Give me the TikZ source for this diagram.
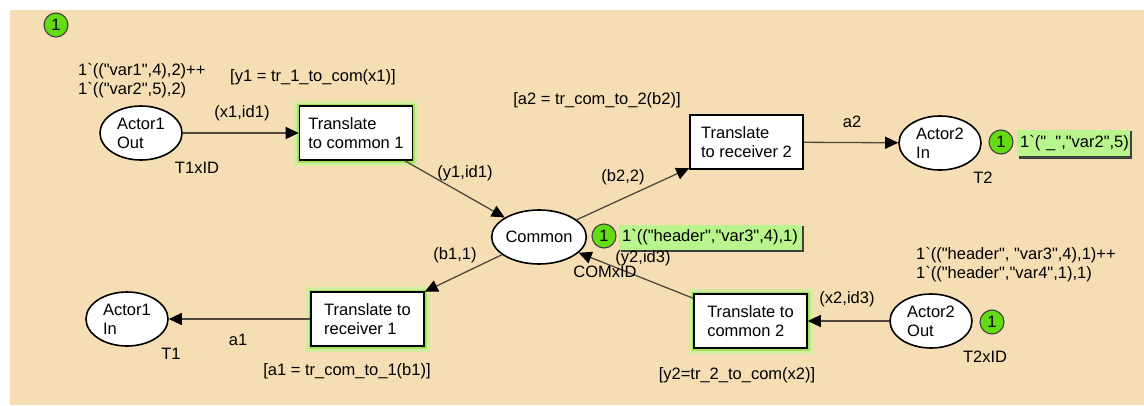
\documentclass[tikz,border=0pt]{standalone}
\usepackage{fontspec}
\setmainfont{Liberation Sans}[Ligatures=TeXOff]
\usetikzlibrary{shapes.geometric,arrows.meta}
\definecolor{bg}{RGB}{245,222,179}
\definecolor{tokgreen}{RGB}{100,220,20}
\definecolor{lblgreen}{RGB}{185,245,140}
\definecolor{edgec}{RGB}{80,72,60}
\definecolor{glowa}{RGB}{210,236,160}
\definecolor{glowb}{RGB}{165,228,90}
\newcommand{\bq}{\symbol{96}}
\begin{document}
\begin{tikzpicture}[x=1pt,y=-1pt,font=\fontsize{16.5}{19}\selectfont,
  place/.style={ellipse, draw=black, line width=1.6pt, fill=white, minimum width=82pt, minimum height=54pt, inner sep=0pt, align=left},
  trans/.style={rectangle, draw=black, line width=1.6pt, fill=white, minimum width=113pt, minimum height=54pt, inner sep=2pt, align=left},
  glowing/.style={preaction={draw=glowa, line width=11pt}, preaction={draw=glowb, line width=5pt}},
  arc/.style={draw=edgec, line width=1.3pt, -{Triangle[length=13pt,width=12pt,color=black]}},
  token/.style={circle, fill=tokgreen, draw=black!75, line width=1.1pt, minimum size=24pt, inner sep=0pt},
  marklbl/.style={fill=lblgreen, inner sep=3pt, anchor=west, minimum height=26pt},
  lbl/.style={inner sep=0pt, align=left}]
\useasboundingbox (0,0) rectangle (1144,405);
\fill[white] (0,0) rectangle (1144,405);
\fill[bg] (10,10) rectangle (1144,405);

% places
\node[place] (a1o) at (141,133) {Actor1\\Out};
\node[place] (com) at (539,237) {Common};
\node[place] (a2i) at (940,143) {Actor2\\In};
\node[place] (a1i) at (127,319) {Actor1\\In};
\node[place] (a2o) at (931,321) {Actor2\\Out};

% transitions
\node[trans,glowing] (t1c) at (356,133) {Translate\\to common 1};
\node[trans] (t2r) at (746.5,142) {Translate\\to receiver 2};
\node[trans,glowing] (t1r) at (367.5,319) {Translate to\\receiver 1};
\node[trans,glowing] (t2c) at (750.5,321) {Translate to\\common 2};

% arcs
\draw[arc] (a1o) -- (t1c);
\draw[arc] (t1c) -- (com);
\draw[arc] (com) -- (t2r);
\draw[arc] (t2r) -- (a2i);
\draw[arc] (com) -- (t1r);
\draw[arc] (t1r) -- (a1i);
\draw[arc] (a2o) -- (t2c);
\draw[arc] (t2c) -- (com);

% tokens
\node[token] (tk0) at (56,25) {1};
\node[token] (tk1) at (1001,142) {1};
\node[token] (tk2) at (604,236) {1};
\node[token] (tk3) at (992,322) {1};

% markings
\fill[black!75] (1019,131) rectangle (1132,159);
\node[marklbl, minimum width=113pt, text width=107pt] (m1) at (1017,143) {1\bq("\_","var2",5)};
\fill[black!75] (621,226) rectangle (804,252);
\node[marklbl, minimum width=183pt, minimum height=25pt, text width=177pt] (m2) at (619,237.5) {1\bq(("header","var3",4),1)};

% labels
\node[lbl, anchor=west] (ima1) at (78,81) {1\bq(("var1",4),2)++\\1\bq(("var2",5),2)};
\node[lbl] (g1) at (313,77) {[y1 = tr\_1\_to\_com(x1)]};
\node[lbl] (e1) at (242,113) {(x1,id1)};
\node[lbl] (ty1) at (197,168) {T1xID};
\node[lbl] (g2) at (597,100) {[a2 = tr\_com\_to\_2(b2)]};
\node[lbl] (e2) at (465,173) {(y1,id1)};
\node[lbl] (e3) at (623,177) {(b2,2)};
\node[lbl] (e4) at (852,122) {a2};
\node[lbl] (ty2) at (983,178) {T2};
\node[lbl] (e5) at (455,255) {(b1,1)};
\node[lbl] (ty3) at (605,272) {COMxID};
\node[lbl] (e6) at (643,258) {(y2,id3)};
\node[lbl, anchor=west] (ima2) at (916,265) {1\bq(("header", "var3",4),1)++\\1\bq(("header","var4",1),1)};
\node[lbl] (e7) at (847,299) {(x2,id3)};
\node[lbl] (ty4) at (985,357) {T2xID};
\node[lbl] (e8) at (238,340) {a1};
\node[lbl] (ty5) at (171,354) {T1};
\node[lbl] (g3) at (347,371) {[a1 = tr\_com\_to\_1(b1)]};
\node[lbl] (g4) at (737,375) {[y2=tr\_2\_to\_com(x2)]};
\end{tikzpicture}
\end{document}
